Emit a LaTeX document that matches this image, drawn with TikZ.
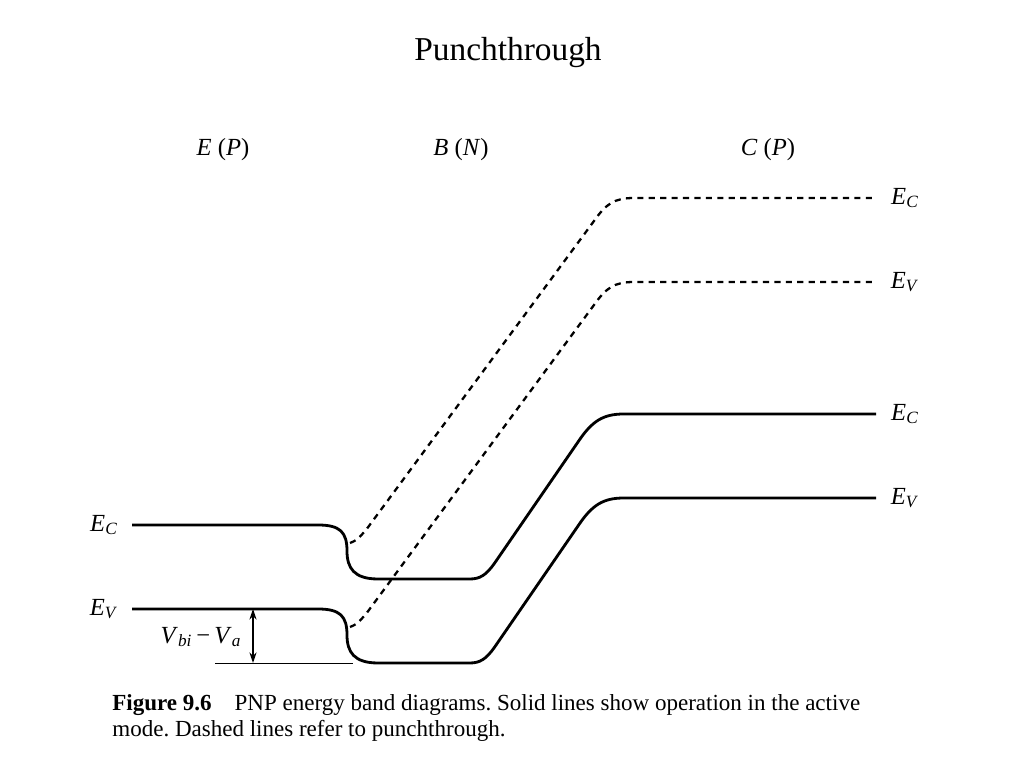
\documentclass[tikz,border=0pt]{standalone}
\usepackage{fontspec}
\setmainfont{Liberation Serif}
\usetikzlibrary{arrows.meta}
\newcommand{\lvl}[1]{\textit{E}\textsubscript{\textit{#1}}}

\begin{document}
\frenchspacing
\begin{tikzpicture}[x=0.2mm,y=-0.2mm,font=\fontsize{14}{16}\selectfont]
	\useasboundingbox (0,0) rectangle (1024,768);

	\node (title) at (508,53) {\fontsize{19}{22}\selectfont Punchthrough};
	\node (emit) at (223,150) {\textit{E} (\textit{P})};
	\node (base) at (461,150) {\textit{B} (\textit{N})};
	\node (coll) at (768,150) {\textit{C} (\textit{P})};

	\foreach \dy/\lab in {0/C,84/V}
	{
		% active mode
		\draw[line width=1.6pt] (132,525+\dy) -- (318,525+\dy)
			.. controls (340,525+\dy) and (347,532+\dy) .. (347,551+\dy)
			.. controls (347,568+\dy) and (354,579+\dy) .. (378,579+\dy)
			-- (470,579+\dy) .. controls (480,579+\dy) and (486,575+\dy) .. (494,564+\dy)
			-- (578,442+\dy) .. controls (592,421+\dy) and (603,414+\dy) .. (624,414+\dy)
			-- (876,414+\dy);
		% punchthrough
		\draw[line width=1.3pt, dash pattern=on 3.5pt off 3pt] (350,543+\dy)
			.. controls (357,540+\dy) .. (366,530+\dy)
			-- (594,221+\dy) .. controls (606,204+\dy) and (614,198+\dy) .. (634,198+\dy)
			-- (876,198+\dy);
		\node (left-\lab) at (104,525+\dy) {\lvl{\lab}};
		\node (act-\lab) at (905,414+\dy) {\lvl{\lab}};
		\node (pt-\lab) at (905,198+\dy) {\lvl{\lab}};
	}

	\coordinate (vtop) at (253,609);
	\coordinate (vbot) at (253,663);
	\draw[line width=0.4pt] (215,663) -- (353,663);
	\draw[line width=0.7pt, {Stealth[length=6pt,width=4pt]}-{Stealth[length=6pt,width=4pt]}] (vtop) -- (vbot);
	\node (vbi) at (201,637) {\textit{V}\textsubscript{\textit{bi}}\,−\,\textit{V}\textsubscript{\textit{a}}};

	\node[anchor=base west, inner sep=0pt, font=\fontsize{13.1}{15}\selectfont] (cap1) at (112,711)
		{\textbf{Figure 9.6}\quad PNP energy band diagrams. Solid lines show operation in the active};
	\node[anchor=base west, inner sep=0pt, font=\fontsize{13.1}{15}\selectfont] (cap2) at (112,737)
		{mode. Dashed lines refer to punchthrough.};
\end{tikzpicture}
\end{document}
